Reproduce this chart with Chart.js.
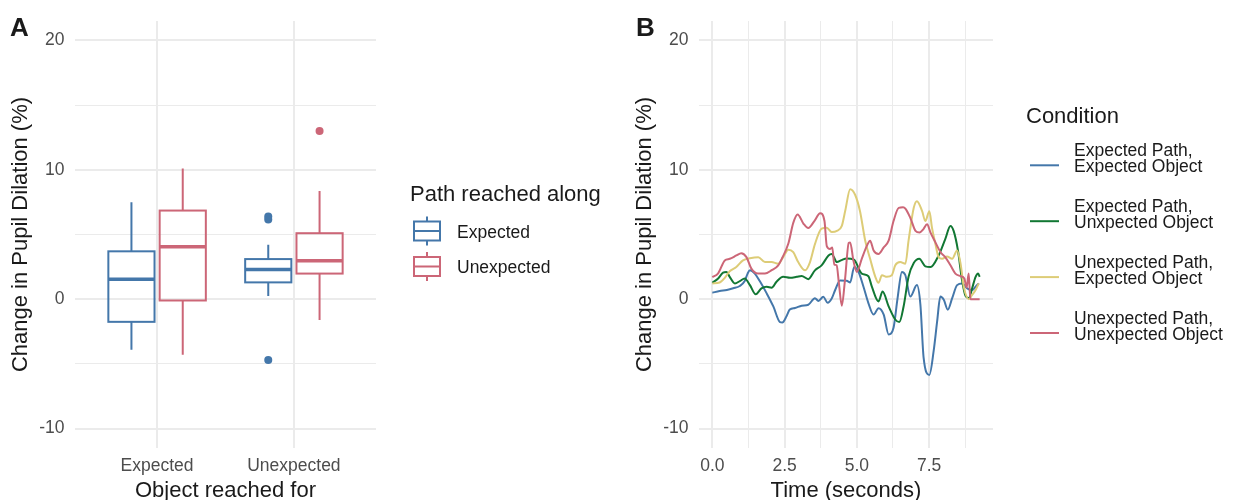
<!DOCTYPE html>
<html>
<head>
<meta charset="utf-8">
<title>Pupil dilation</title>
<script src="https://cdn.jsdelivr.net/npm/chart.js@4.4.1/dist/chart.umd.min.js"></script>
<style>
  html, body { margin: 0; padding: 0; background: #fff; overflow: hidden; width: 1237px; height: 500px; }
  #panelA { position: absolute; left: 0; top: 0; }
  #panelB { position: absolute; left: 620px; top: 0; }
</style>
</head>
<body>
<canvas id="panelA" width="620" height="515"></canvas>
<canvas id="panelB" width="617" height="515"></canvas>
<script>
// ---- panel A: box plots ----
const objectCategories = ['Expected', 'Unexpected'];
const pathGroups = ['Expected', 'Unexpected'];
// [lower whisker, q1, median, q3, upper whisker] for each object category
const expectedPathBoxes = [[-3.9, -1.75, 1.55, 3.7, 7.5], [0.25, 1.3, 2.3, 3.1, 4.2]];
const unexpectedPathBoxes = [[-4.3, -0.1, 4.05, 6.85, 10.1], [-1.6, 1.98, 2.98, 5.1, 8.37]];
const expectedPathOutliers = [[], [6.15, 6.4, -4.7]];
const unexpectedPathOutliers = [[], [13.0]];

// ---- panel B: time courses ----
const timeEPEO = [0, 0.25, 0.5, 0.72, 0.95, 1.12, 1.22, 1.3, 1.47, 1.64, 1.88, 2.11, 2.34, 2.42, 2.57, 2.68, 2.86, 3.09, 3.32, 3.55, 3.67, 3.84, 3.99, 4.13, 4.25, 4.42, 4.65, 4.77, 4.91, 5.06, 5.23, 5.4, 5.58, 5.75, 5.93, 6.1, 6.27, 6.41, 6.56, 6.68, 6.85, 7.08, 7.2, 7.31, 7.51, 7.66, 7.78, 7.89, 8.01, 8.15, 8.3, 8.47, 8.65, 8.82, 8.99, 9.11, 9.22];
const valsEPEO = [0.5, 0.63, 0.71, 0.84, 1.02, 1.4, 1.98, 2.24, 1.98, 1.4, 0.45, -0.56, -1.77, -1.8, -1.3, -0.8, -0.68, -0.5, -0.43, 0.08, -0.13, 0.18, -0.28, 0.05, 0.71, 1.45, 1.42, 1.3, 2.49, 2.1, 0.96, -0.3, -1.19, -0.69, -1.19, -2.72, -2.21, 0.08, 2.11, 1.85, 0.2, 1.09, -0.43, -4.49, -5.85, -3.98, -1.7, 0.2, -0.05, -0.81, 0.08, 1.09, 1.22, 0.84, 0.71, 0.96, 1.22];

const timeEPUO = [0, 0.2, 0.37, 0.49, 0.6, 0.78, 0.95, 1.12, 1.3, 1.5, 1.7, 1.88, 2.05, 2.22, 2.45, 2.69, 2.92, 3.09, 3.32, 3.55, 3.78, 4.02, 4.13, 4.31, 4.45, 4.65, 4.9, 5.17, 5.4, 5.52, 5.75, 5.89, 6.1, 6.33, 6.47, 6.62, 6.79, 6.97, 7.16, 7.37, 7.55, 7.83, 8.06, 8.24, 8.35, 8.5, 8.64, 8.76, 8.88, 8.99, 9.11, 9.2, 9.25];
const valsEPUO = [1.27, 1.6, 2.06, 2.11, 1.73, 1.22, 1.4, 1.6, 1.09, 0.38, 0.84, 0.96, 0.89, 1.35, 1.73, 1.65, 1.73, 1.8, 1.55, 2.23, 2.61, 3.38, 3.5, 2.87, 3.0, 3.15, 3.05, 1.98, 1.78, 0.97, -0.17, 0.59, -0.55, -1.57, -1.77, -0.55, 1.73, 2.79, 3.12, 2.54, 2.49, 3.38, 4.65, 5.66, 5.28, 3.76, 1.47, 0.26, 0.08, 0.84, 1.73, 1.98, 1.73];

const timeUPEO = [0, 0.25, 0.43, 0.6, 0.83, 1.06, 1.3, 1.59, 1.82, 2.05, 2.28, 2.45, 2.63, 2.8, 2.97, 3.21, 3.38, 3.55, 3.78, 3.96, 4.13, 4.31, 4.48, 4.6, 4.77, 4.94, 5.11, 5.29, 5.46, 5.64, 5.75, 5.87, 6.04, 6.21, 6.33, 6.5, 6.68, 6.79, 6.97, 7.08, 7.26, 7.37, 7.51, 7.6, 7.72, 7.83, 7.95, 8.12, 8.3, 8.47, 8.59, 8.7, 8.88, 8.99, 9.11, 9.22];
const valsUPEO = [1.22, 1.29, 1.65, 2.16, 2.49, 3.0, 3.17, 3.25, 2.87, 2.87, 2.74, 3.25, 3.83, 3.63, 2.87, 2.23, 2.87, 4.26, 5.46, 5.53, 5.2, 5.28, 5.66, 6.85, 8.5, 8.07, 6.8, 4.52, 3.12, 1.73, 1.27, 1.85, 1.73, 1.85, 2.62, 2.87, 2.74, 4.52, 7.06, 7.57, 6.8, 6.04, 6.8, 5.53, 4.27, 3.25, 3.12, 3.3, 3.12, 3.76, 2.74, 0.97, 0, 0.33, 0.71, 1.22];

const timeUPUO = [0, 0.2, 0.43, 0.6, 0.83, 1.0, 1.18, 1.35, 1.58, 1.82, 2.05, 2.28, 2.42, 2.63, 2.8, 2.95, 3.15, 3.32, 3.53, 3.73, 3.88, 3.96, 4.07, 4.15, 4.22, 4.3, 4.38, 4.48, 4.59, 4.72, 4.77, 4.88, 5.0, 5.17, 5.35, 5.46, 5.58, 5.75, 5.93, 6.1, 6.27, 6.45, 6.6, 6.68, 6.85, 7.03, 7.17, 7.3, 7.43, 7.55, 7.72, 7.9, 8.06, 8.24, 8.41, 8.59, 8.72, 8.8, 8.87, 8.93, 9.05, 9.25];
const valsUPUO = [1.7, 2.0, 3.0, 3.12, 3.38, 3.56, 3.25, 2.36, 1.98, 1.98, 2.24, 2.62, 3.2, 4.3, 5.9, 6.55, 5.85, 5.5, 6.04, 6.65, 6.04, 4.1, 3.88, 4.0, 2.69, 2.62, 1.22, -0.5, 1.5, 4.35, 4.39, 3.0, 2.11, 3.12, 4.14, 4.52, 3.76, 3.5, 4.01, 4.52, 6.04, 7.06, 7.1, 7.0, 6.29, 5.28, 5.15, 5.4, 5.79, 5.15, 4.39, 3.63, 3.25, 2.62, 1.98, 1.78, 1.6, 0.9, 1.98, 0, 0, 0];

const conditionNames = [
  'Expected Path,\nExpected Object',
  'Expected Path,\nUnxpected Object',
  'Unexpected Path,\nExpected Object',
  'Unexpected Path,\nUnexpected Object'
];

// axis breaks
const pupilBreaks = [-10, 0, 10, 20];
const pupilMinorBreaks = [-5, 5, 15];
const timeBreaks = [0, 2.5, 5, 7.5];
const timeMinorBreaks = [1.25, 3.75, 6.25, 8.75];

const BLUE = '#4477AA', GREEN = '#117733', YELLOW = '#DDCC77', RED = '#CC6677';
const GRID = '#ebebeb';
const INK = '#1a1a1a';
const FONT = '"Liberation Sans", Arial, Helvetica, sans-serif';

Chart.defaults.font.family = FONT;
Chart.defaults.color = '#4d4d4d';

const dodge = [-0.1875, 0.1875];
const boxHalf = 0.16875;

function setTicks(list) {
  return scale => { scale.ticks = list.slice().sort((a, b) => a - b).map(v => ({ value: v })); };
}

function pupilAxis(titlePad, width) {
  return {
    type: 'linear', min: -11.5, max: 21.5,
    afterBuildTicks: setTicks(pupilBreaks.concat(pupilMinorBreaks)),
    afterFit: s => { s.width = width; },
    ticks: {
      callback: v => (pupilBreaks.includes(v) ? String(v) : ''),
      padding: 10.5, font: { size: 17.5 }, color: '#4d4d4d', autoSkip: false
    },
    grid: { color: GRID, drawTicks: false, lineWidth: c => (c.tick && pupilBreaks.includes(c.tick.value) ? 2 : 1) },
    border: { display: false },
    title: { display: true, text: 'Change in Pupil Dilation (%)', color: INK, font: { size: 22 }, padding: { top: titlePad, bottom: 0 } }
  };
}

function bottomAxis(opts) {
  return Object.assign({
    type: 'linear',
    afterFit: s => { s.height = 67; },
    grid: { color: GRID, drawTicks: false },
    border: { display: false },
  }, opts);
}

// boxes, whiskers and medians drawn against the chart's own scales
const boxPlotPlugin = {
  id: 'boxPlot',
  beforeDatasetsDraw(chart) {
    const { ctx, scales: { x, y } } = chart;
    const groups = [[expectedPathBoxes, BLUE, dodge[0]], [unexpectedPathBoxes, RED, dodge[1]]];
    ctx.save();
    groups.forEach(([boxes, color, off]) => {
      boxes.forEach((b, i) => {
        const [lo, q1, med, q3, hi] = b;
        const c = i + 1 + off;
        const cx = x.getPixelForValue(c);
        const left = x.getPixelForValue(c - boxHalf);
        const right = x.getPixelForValue(c + boxHalf);
        const yq1 = y.getPixelForValue(q1), yq3 = y.getPixelForValue(q3);
        ctx.strokeStyle = color;
        ctx.lineWidth = 2;
        ctx.beginPath();
        ctx.moveTo(cx, y.getPixelForValue(hi)); ctx.lineTo(cx, yq3);
        ctx.moveTo(cx, yq1); ctx.lineTo(cx, y.getPixelForValue(lo));
        ctx.stroke();
        ctx.strokeRect(left, yq3, right - left, yq1 - yq3);
        ctx.lineWidth = 3.5;
        const ym = y.getPixelForValue(med);
        ctx.beginPath(); ctx.moveTo(left, ym); ctx.lineTo(right, ym); ctx.stroke();
      });
    });
    ctx.restore();
  }
};

const pathKeyPlugin = {
  id: 'pathKey',
  afterDraw(chart) {
    const ctx = chart.ctx;
    ctx.save();
    ctx.fillStyle = INK;
    ctx.textBaseline = 'alphabetic';
    ctx.font = 'bold 26px ' + FONT;
    ctx.fillText('A', 10, 36);
    ctx.font = '22px ' + FONT;
    ctx.fillText('Path reached along', 410, 201);
    ctx.font = '17.5px ' + FONT;
    [BLUE, RED].forEach((color, i) => {
      const cy = 231 + 35.5 * i;
      ctx.strokeStyle = color;
      ctx.lineWidth = 2;
      ctx.strokeRect(414, cy - 9.5, 26, 19);
      ctx.beginPath();
      ctx.moveTo(414, cy); ctx.lineTo(440, cy);
      ctx.moveTo(427, cy - 14.5); ctx.lineTo(427, cy - 9.5);
      ctx.moveTo(427, cy + 9.5); ctx.lineTo(427, cy + 14.5);
      ctx.stroke();
      ctx.fillText(pathGroups[i], 457, cy + 6.5);
    });
    ctx.restore();
  }
};

const conditionKeyPlugin = {
  id: 'conditionKey',
  afterDraw(chart) {
    const ctx = chart.ctx;
    ctx.save();
    ctx.fillStyle = INK;
    ctx.textBaseline = 'alphabetic';
    ctx.font = 'bold 26px ' + FONT;
    ctx.fillText('B', 16, 36);
    ctx.font = '22px ' + FONT;
    ctx.fillText('Condition', 406, 123);
    ctx.font = '17.5px ' + FONT;
    chart.data.datasets.forEach((ds, i) => {
      const cy = 165.3 + 55.9 * i;
      ctx.strokeStyle = ds.borderColor;
      ctx.lineWidth = 2;
      ctx.beginPath(); ctx.moveTo(410, cy); ctx.lineTo(439, cy); ctx.stroke();
      const lines = ds.label.split('\n');
      ctx.fillText(lines[0], 454, cy - 9.5);
      ctx.fillText(lines[1], 454, cy + 6.5);
    });
    ctx.restore();
  }
};

function outlierPoints(outliers, off) {
  const pts = [];
  outliers.forEach((vals, i) => vals.forEach(v => pts.push({ x: i + 1 + off, y: v })));
  return pts;
}

function series(times, vals) {
  return times.map((t, i) => ({ x: t, y: vals[i] }));
}

new Chart(document.getElementById('panelA'), {
  type: 'scatter',
  data: {
    datasets: [
      { label: pathGroups[0], data: outlierPoints(expectedPathOutliers, dodge[0]), backgroundColor: BLUE, borderWidth: 0, pointRadius: 4 },
      { label: pathGroups[1], data: outlierPoints(unexpectedPathOutliers, dodge[1]), backgroundColor: RED, borderWidth: 0, pointRadius: 4 }
    ]
  },
  options: {
    responsive: false,
    animation: false,
    layout: { padding: { top: 16, right: 244, left: 0, bottom: 0 } },
    plugins: { legend: { display: false }, tooltip: { enabled: false } },
    scales: {
      x: bottomAxis({
        min: 0.4, max: 2.6,
        afterBuildTicks: setTicks([1, 2]),
        ticks: { callback: (v, i) => objectCategories[i], padding: 7.5, font: { size: 17.5 }, color: '#4d4d4d', autoSkip: false, maxRotation: 0 },
        grid: { color: GRID, drawTicks: false, lineWidth: 2 },
        title: { display: true, text: 'Object reached for', color: INK, font: { size: 22 }, padding: { top: 0, bottom: 11 } }
      }),
      y: pupilAxis(7.5, 75)
    }
  },
  plugins: [boxPlotPlugin, pathKeyPlugin]
});

const lineColors = [BLUE, GREEN, YELLOW, RED];
const lineData = [series(timeEPEO, valsEPEO), series(timeEPUO, valsEPUO), series(timeUPEO, valsUPEO), series(timeUPUO, valsUPUO)];

new Chart(document.getElementById('panelB'), {
  type: 'line',
  data: {
    datasets: lineData.map((d, i) => ({
      label: conditionNames[i],
      data: d,
      borderColor: lineColors[i],
      borderWidth: 2,
      pointRadius: 0,
      fill: false,
      cubicInterpolationMode: 'monotone',
      order: 3 - i
    }))
  },
  options: {
    responsive: false,
    animation: false,
    layout: { padding: { top: 16, right: 244, left: 0, bottom: 0 } },
    plugins: { legend: { display: false }, tooltip: { enabled: false } },
    scales: {
      x: bottomAxis({
        min: -0.4625, max: 9.7125,
        afterBuildTicks: setTicks(timeBreaks.concat(timeMinorBreaks)),
        ticks: { callback: v => (timeBreaks.includes(v) ? v.toFixed(1) : ''), padding: 7.5, font: { size: 17.5 }, color: '#4d4d4d', autoSkip: false, maxRotation: 0 },
        grid: { color: GRID, drawTicks: false, lineWidth: c => (c.tick && timeBreaks.includes(c.tick.value) ? 2 : 1) },
        title: { display: true, text: 'Time (seconds)', color: INK, font: { size: 22 }, padding: { top: 0, bottom: 11 } }
      }),
      y: pupilAxis(12, 79)
    }
  },
  plugins: [conditionKeyPlugin]
});
</script>
</body>
</html>
